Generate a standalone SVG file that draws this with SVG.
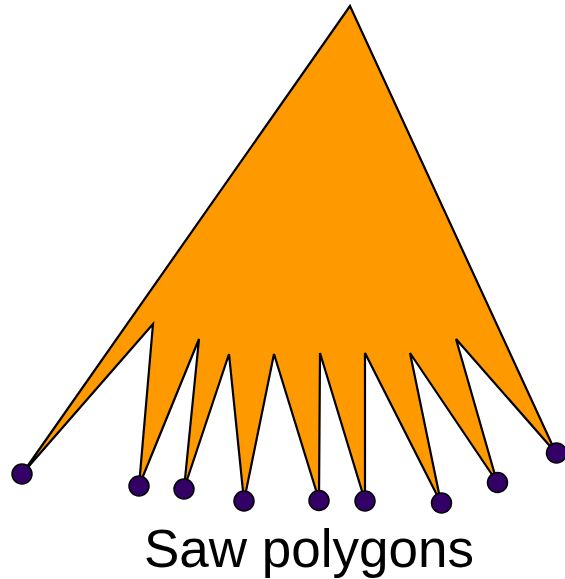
<svg xmlns="http://www.w3.org/2000/svg" width="565" height="579" viewBox="0 0 565 579">
<style>
.saw{fill:#ff9900;stroke:#000;stroke-width:2.2;stroke-linejoin:miter}
.dot{fill:#330066;stroke:#000;stroke-width:1.5}
.lbl{font-family:"Liberation Sans",Arial,sans-serif;font-size:53px;fill:#000}
</style>
<g id="saw-polygon">
<polygon class="saw" points="350,6 556,453 456,339 497,482 410,353 441,503 365,353 365,501 320,353 319,500 274,354 244,501 229,354 184,489 199,339 139,486 153,324 22,474"/>
</g>
<g id="dots">
<circle class="dot" cx="22" cy="474" r="10"/>
<circle class="dot" cx="139" cy="486" r="10"/>
<circle class="dot" cx="184" cy="489" r="10"/>
<circle class="dot" cx="244" cy="501" r="10"/>
<circle class="dot" cx="319" cy="500.5" r="10"/>
<circle class="dot" cx="365" cy="501" r="10"/>
<circle class="dot" cx="441.5" cy="503" r="10"/>
<circle class="dot" cx="497.5" cy="482.5" r="10"/>
<circle class="dot" cx="556.5" cy="453" r="10"/>
</g>
<g id="label">
<text class="lbl" x="309" y="567" text-anchor="middle">Saw polygons</text>
</g>
</svg>
